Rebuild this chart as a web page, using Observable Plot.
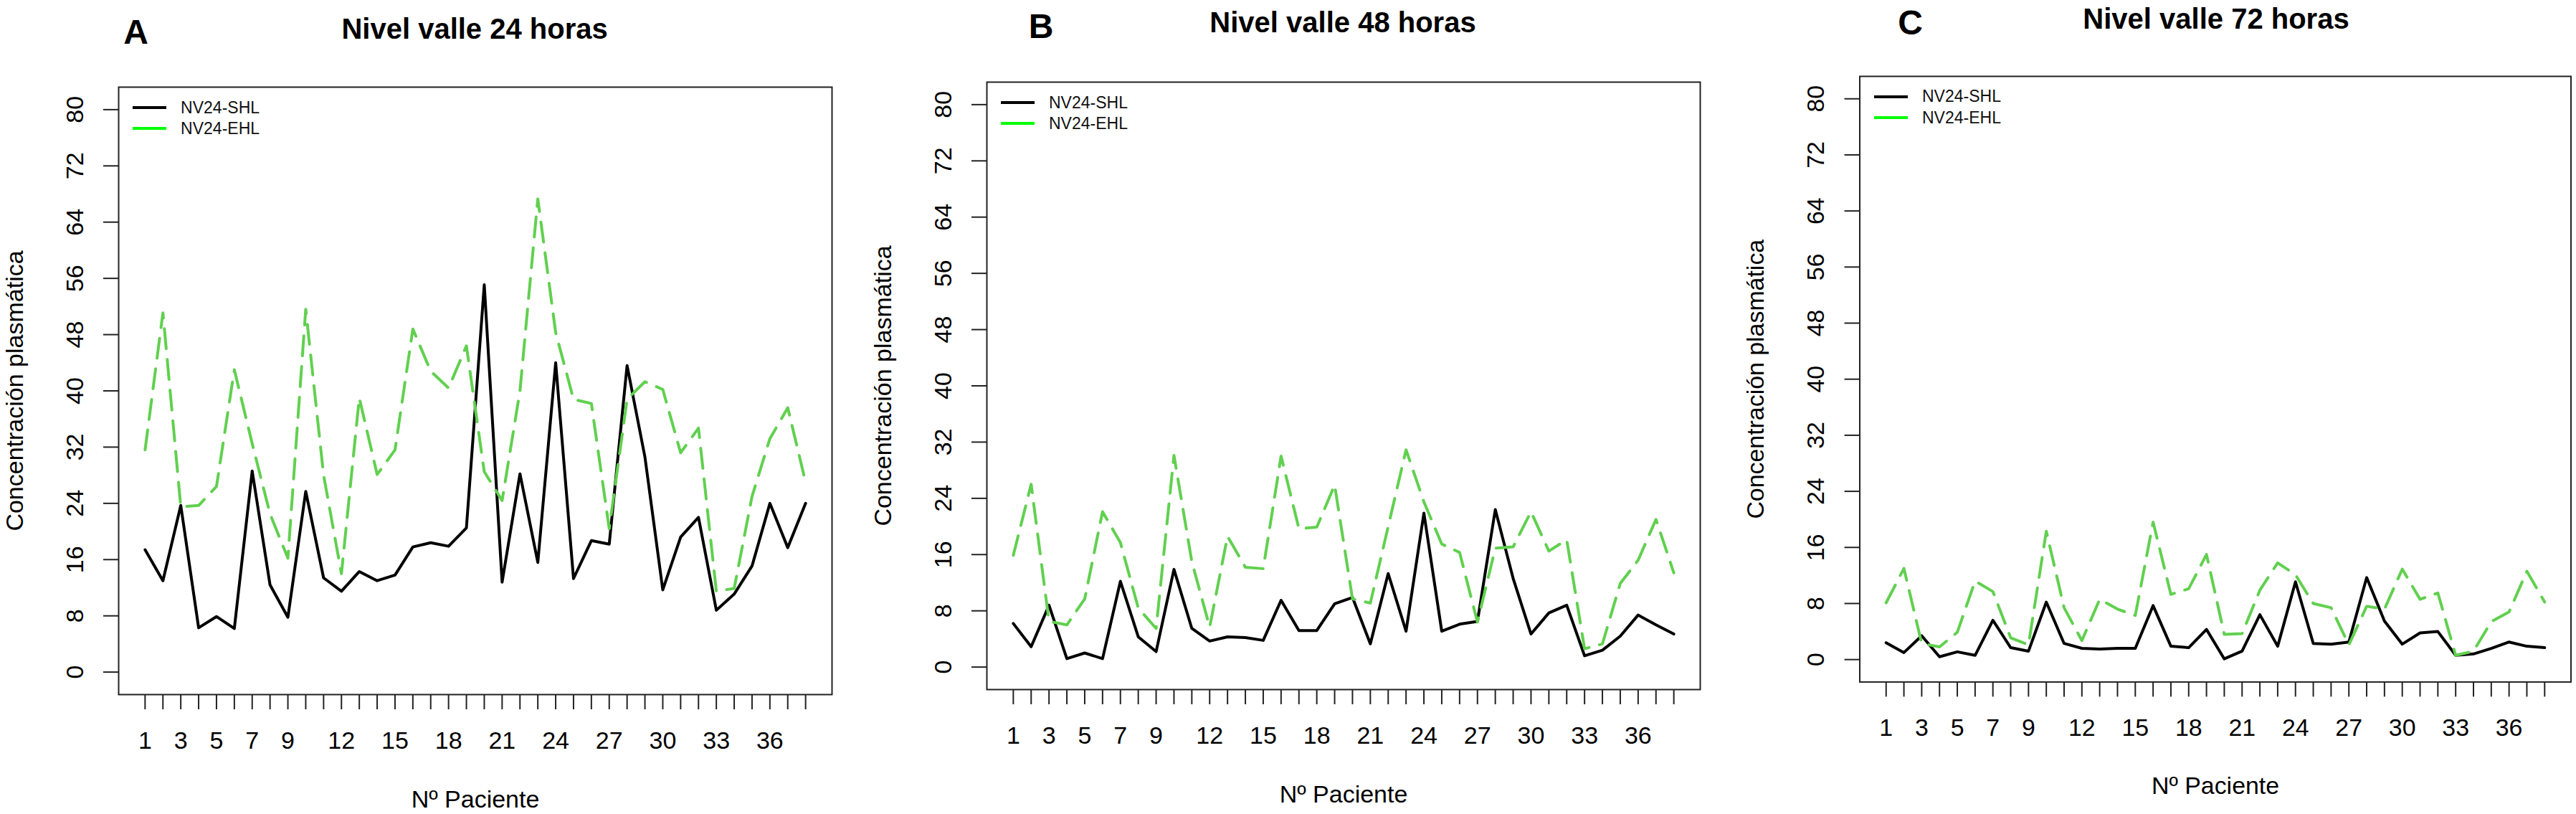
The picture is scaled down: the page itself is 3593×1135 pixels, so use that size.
<!DOCTYPE html>
<html><head><meta charset="utf-8">
<script src="https://cdn.jsdelivr.net/npm/d3@7"></script>
<script src="https://cdn.jsdelivr.net/npm/@observablehq/plot@0.6"></script>
<style>
html,body{margin:0;padding:0;background:#fff;}
#root{position:relative;width:3593px;height:1135px;overflow:hidden;font-family:"Liberation Sans",Arial,Helvetica,sans-serif;color:#000;background:#fff;}
.abs{position:absolute;}
.title{font-weight:bold;font-size:40px;line-height:40px;white-space:nowrap;transform:translateX(-50%);}
.letter{font-weight:bold;font-size:48px;line-height:48px;transform:translateX(-50%);}
.leg{font-size:23px;line-height:23px;white-space:nowrap;color:#111;}
svg{overflow:visible;}
</style></head><body><div id="root"></div>
<script>
// ---- data ----
const patients = [1,2,3,4,5,6,7,8,9,10,11,12,13,14,15,16,17,18,19,20,21,22,23,24,25,26,27,28,29,30,31,32,33,34,35,36,37,38];
const xTickLabels = [1,3,5,7,9,12,15,18,21,24,27,30,33,36];
const yTicks = [0,8,16,24,32,40,48,56,64,72,80];
const seriesNames = ["NV24-SHL","NV24-EHL"];
const titles = ["Nivel valle 24 horas","Nivel valle 48 horas","Nivel valle 72 horas"];
const letters = ["A","B","C"];
const xLabel = "Nº Paciente";
const yLabel = "Concentración plasmática";

const shl24 = [17.4,13.0,23.7,6.3,7.9,6.2,28.6,12.4,7.8,25.7,13.4,11.5,14.3,13.0,13.8,17.8,18.4,17.9,20.5,55.1,12.8,28.2,15.6,44.0,13.3,18.7,18.2,43.6,30.6,11.7,19.2,22.0,8.8,11.1,15.1,24.0,17.7,24.0];
const ehl24 = [31.6,51.1,23.5,23.7,26.4,43.0,32.5,22.5,16.2,51.6,28.0,14.0,39.0,28.1,31.6,48.8,42.8,40.4,46.4,28.5,24.4,40.0,67.3,48.3,38.8,38.2,20.4,38.8,41.3,40.2,31.2,34.7,11.5,11.9,25.0,33.2,37.6,27.0];
const shl48 = [6.2,2.9,8.8,1.2,2.0,1.2,12.2,4.3,2.2,13.9,5.5,3.7,4.3,4.2,3.8,9.5,5.2,5.2,9.0,9.9,3.3,13.3,5.1,21.9,5.1,6.1,6.5,22.4,12.6,4.7,7.7,8.8,1.6,2.4,4.4,7.4,6.0,4.7];
const ehl48 = [15.9,26.0,6.5,6.0,9.7,22.1,17.7,8.4,5.5,30.1,15.0,5.7,18.6,14.2,14.0,30.0,19.7,19.9,25.9,9.7,9.1,20.0,30.9,23.5,17.5,16.3,6.4,16.9,17.1,22.1,16.5,18.1,2.6,3.3,11.9,15.2,21.0,13.4];
const shl72 = [2.4,1.0,3.4,0.4,1.1,0.6,5.6,1.7,1.2,8.2,2.3,1.6,1.5,1.6,1.6,7.7,1.9,1.7,4.3,0.1,1.2,6.4,1.9,11.1,2.3,2.2,2.5,11.7,5.5,2.2,3.8,4.0,0.6,0.8,1.6,2.5,1.9,1.7];
const ehl72 = [8.1,13.0,2.3,1.8,3.9,11.2,9.7,3.1,2.1,18.3,7.4,2.7,8.6,7.2,6.3,19.6,9.3,10.1,15.0,3.6,3.7,9.9,13.8,12.1,8.0,7.4,2.1,7.6,7.2,12.9,8.6,9.5,0.6,1.2,5.4,6.8,12.6,8.2];

// ---- layout ----
const BOX_W = 995, BOX_H = 847;
const panels = [
  {shl: shl24, ehl: ehl24, boxLeft: 164.6, boxTop: 121.4, letterX: 189.5, letterTop: 27, titleTop: 25},
  {shl: shl48, ehl: ehl48, boxLeft: 1375.5, boxTop: 114.3, letterX: 1452, letterTop: 19.6, titleTop: 16},
  {shl: shl72, ehl: ehl72, boxLeft: 2593.5, boxTop: 106.0, letterX: 2664.5, letterTop: 14, titleTop: 10.7}
];
const colSHL = "#000000", colEHL = "#61D04F", colLegEHL = "#00FF00";

const root = document.getElementById("root");
function addDiv(cls, css, text) {
  const d = document.createElement("div");
  d.className = "abs " + cls;
  Object.assign(d.style, css);
  if (text != null) d.textContent = text;
  root.appendChild(d);
  return d;
}

panels.forEach((cfg, k) => {
  const ml = 165, mt = 4, mr = 8, mb = 185;
  const W = ml + BOX_W + mr, H = mt + BOX_H + mb;
  const rows = patients.map((p, i) => ({p, shl: cfg.shl[i], ehl: cfg.ehl[i]}));
  const pad = 0.04 * (patients[patients.length - 1] - patients[0]);
  const svg = Plot.plot({
    width: W, height: H,
    marginLeft: ml, marginTop: mt, marginRight: mr, marginBottom: mb,
    x: {domain: [patients[0] - pad, patients[patients.length - 1] + pad]},
    y: {domain: [-3.2, 83.2]},
    style: {fontFamily: '"Liberation Sans", Arial, Helvetica, sans-serif', fontSize: "34px", color: "#000", background: "transparent", overflow: "visible"},
    marks: [
      Plot.frame({stroke: "#222", strokeWidth: 2}),
      Plot.axisX({ticks: patients, tickSize: 21, tickPadding: 30, tickFormat: d => xTickLabels.includes(d) ? String(d) : "", fontSize: 34, stroke: "#222", strokeWidth: 2, label: null}),
      Plot.axisY({ticks: yTicks, tickSize: 21, tickFormat: () => "", stroke: "#222", strokeWidth: 2, label: null}),
      Plot.text(yTicks, {y: d => d, text: d => String(d), frameAnchor: "left", dx: -50, rotate: -90, textAnchor: "middle", lineAnchor: "bottom", fontSize: 34, fill: "#000"}),
      Plot.text([yLabel], {text: d => d, frameAnchor: "left", dx: -134, rotate: -90, textAnchor: "middle", lineAnchor: "bottom", fontSize: 34, fill: "#000"}),
      Plot.text([xLabel], {text: d => d, frameAnchor: "bottom", dy: 157, lineAnchor: "bottom", fontSize: 34, fill: "#000"}),
      Plot.line(rows, {x: "p", y: "shl", stroke: colSHL, strokeWidth: 4}),
      Plot.line(rows, {x: "p", y: "ehl", stroke: colEHL, strokeWidth: 4, strokeDasharray: "28,15"})
    ]
  });
  const holder = addDiv("", {left: (cfg.boxLeft - ml) + "px", top: (cfg.boxTop - mt) + "px"});
  holder.appendChild(svg);

  // title and panel letter
  addDiv("title", {left: (cfg.boxLeft + BOX_W / 2) + "px", top: (cfg.titleTop - 5.2) + "px"}, titles[k]);
  addDiv("letter", {left: cfg.letterX + "px", top: (cfg.letterTop - 6.2) + "px"}, letters[k]);

  // legend
  const legCols = [colSHL, colLegEHL];
  seriesNames.forEach((name, j) => {
    const cy = cfg.boxTop + 28.6 + j * 29.2;
    addDiv("", {left: (cfg.boxLeft + 20.5) + "px", top: (cy - 2) + "px", width: "46.5px", height: "4px", background: legCols[j]});
    addDiv("leg", {left: (cfg.boxLeft + 87.5) + "px", top: (cy - 11.3) + "px"}, name);
  });
});
</script>
</body></html>
